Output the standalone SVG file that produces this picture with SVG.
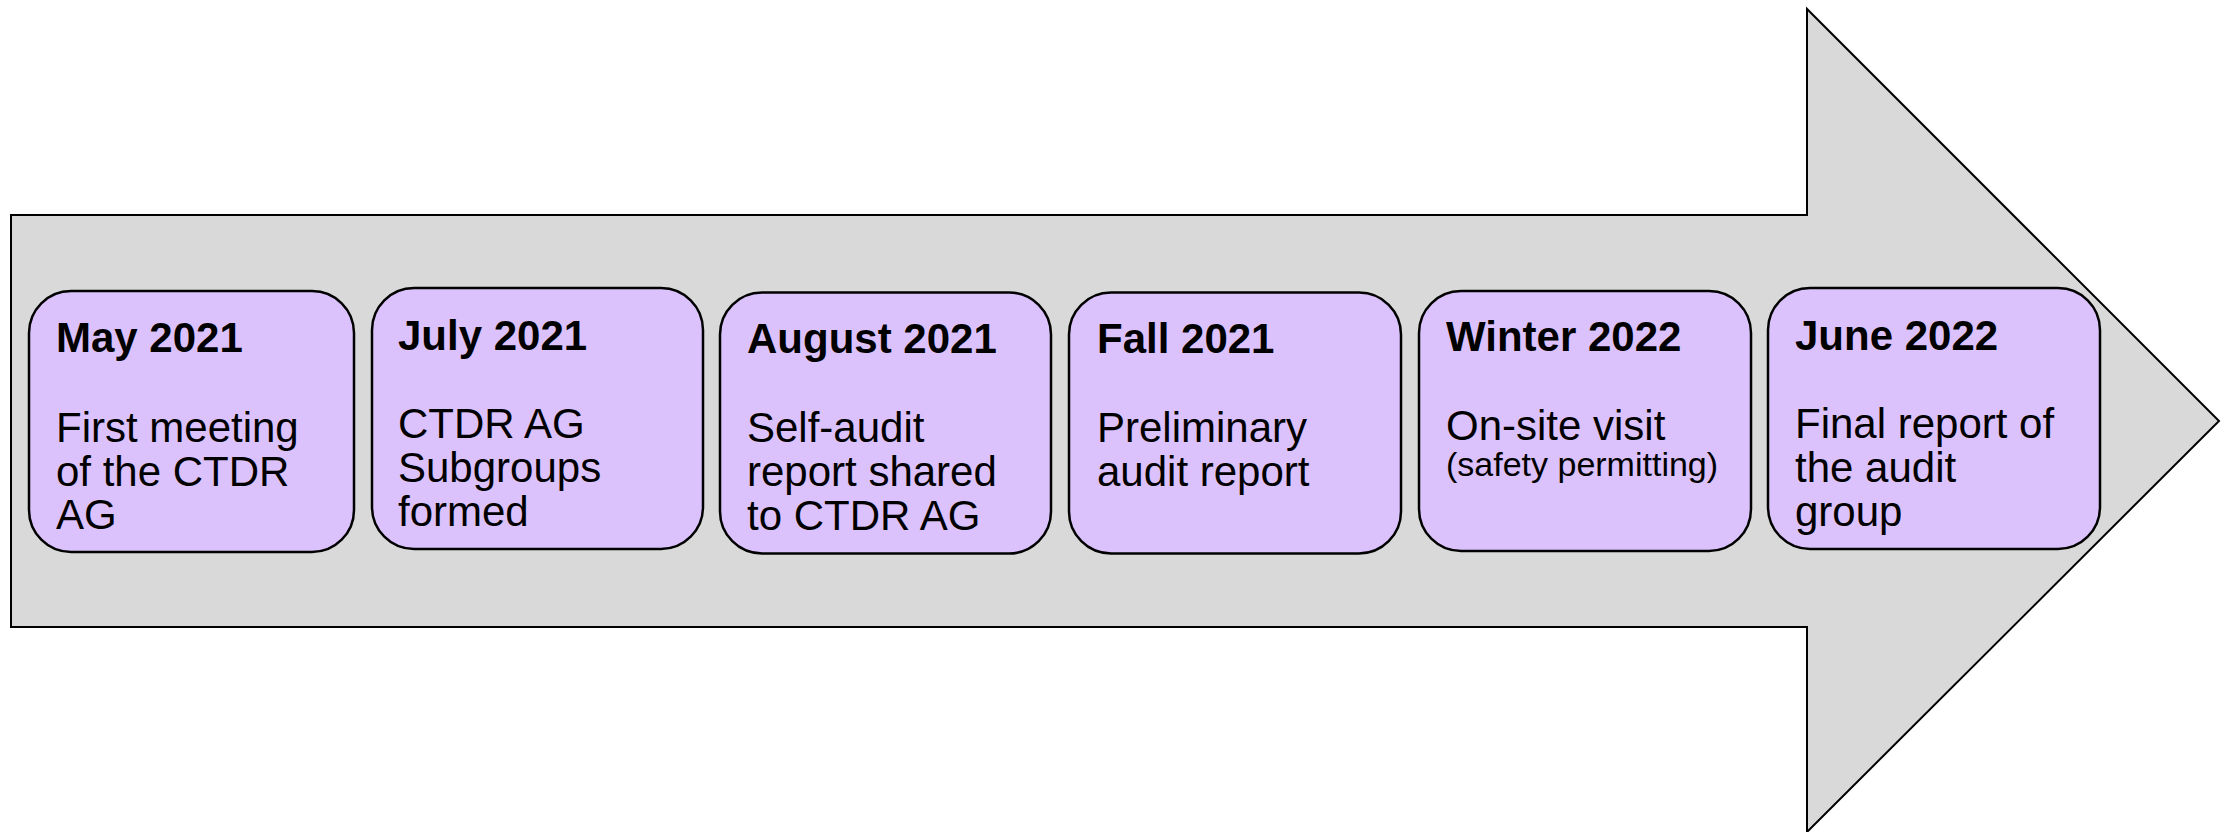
<svg xmlns="http://www.w3.org/2000/svg" width="2238" height="832" viewBox="0 0 2238 832">
<style>
.box{fill:#dcc2fc;stroke:#000;stroke-width:2.5}
.t{font-family:"Liberation Sans",Arial,sans-serif;font-size:42px;fill:#000}
.b{font-weight:bold}
.s{font-size:34px}
</style>
<rect width="2238" height="832" fill="#fff"/>
<g id="arrow">
<polygon points="11,215 1807,215 1807,9 2219,421 1807,832 1807,627 11,627" fill="#d9d9d9" stroke="#000" stroke-width="2"/>
</g>
<g id="connectors"></g>
<g id="n1">
<rect class="box" x="29" y="291" width="325" height="261" rx="42"/>
<text class="t b" x="56" y="352">May 2021</text>
<text class="t" x="56" y="442">First meeting</text>
<text class="t" x="56" y="486">of the CTDR</text>
<text class="t" x="56" y="529">AG</text>
</g>
<g id="n2">
<rect class="box" x="372" y="288" width="331" height="261" rx="42"/>
<text class="t b" x="398" y="350">July 2021</text>
<text class="t" x="398" y="438">CTDR AG</text>
<text class="t" x="398" y="482">Subgroups</text>
<text class="t" x="398" y="526">formed</text>
</g>
<g id="n3">
<rect class="box" x="720" y="292.5" width="331" height="261" rx="42"/>
<text class="t b" x="747" y="353">August 2021</text>
<text class="t" x="747" y="442">Self-audit</text>
<text class="t" x="747" y="486">report shared</text>
<text class="t" x="747" y="530">to CTDR AG</text>
</g>
<g id="n4">
<rect class="box" x="1069" y="292.5" width="332" height="261" rx="42"/>
<text class="t b" x="1097" y="353">Fall 2021</text>
<text class="t" x="1097" y="442">Preliminary</text>
<text class="t" x="1097" y="486">audit report</text>
</g>
<g id="n5">
<rect class="box" x="1419" y="291" width="332" height="260" rx="42"/>
<text class="t b" x="1446" y="351">Winter 2022</text>
<text class="t" x="1446" y="440">On-site visit</text>
<text class="t s" x="1446" y="476">(safety permitting)</text>
</g>
<g id="n6">
<rect class="box" x="1768" y="288" width="332" height="261" rx="42"/>
<text class="t b" x="1795" y="350">June 2022</text>
<text class="t" x="1795" y="438">Final report of</text>
<text class="t" x="1795" y="482">the audit</text>
<text class="t" x="1795" y="526">group</text>
</g>
</svg>
